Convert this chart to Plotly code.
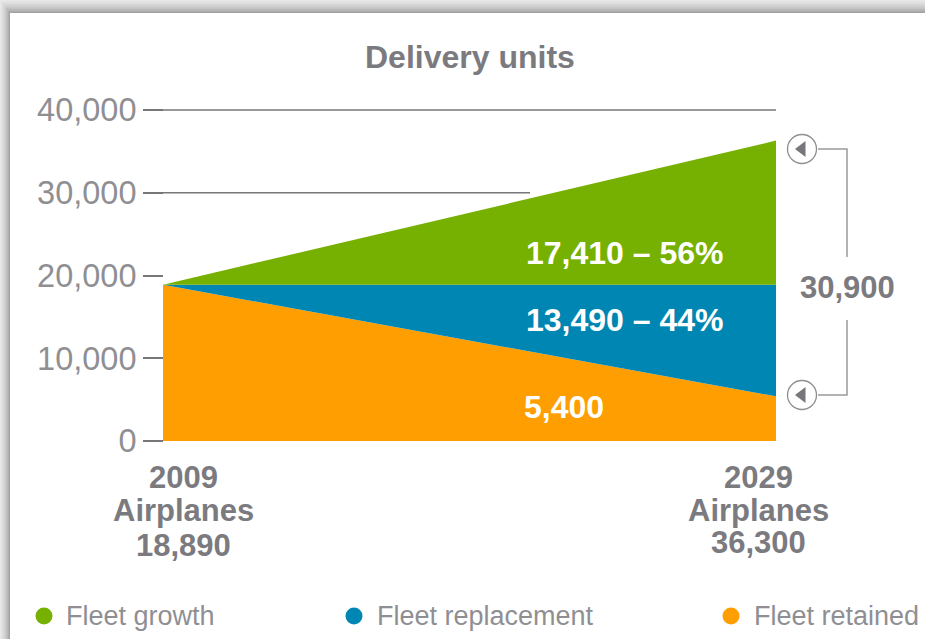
import plotly.graph_objects as go

# Delivery forecast, stacked from the bottom up
years = [2009, 2029]
fleet_retained = [18890, 5400]
fleet_replacement = [0, 13490]
fleet_growth = [0, 17410]

y_ticks = [0, 10000, 20000, 30000, 40000]
series_names = ["Fleet growth", "Fleet replacement", "Fleet retained"]
growth_label = "17,410 – 56%"
replacement_label = "13,490 – 44%"
retained_label = "5,400"
total_label = "30,900"
start_lines = ["2009", "Airplanes", "18,890"]
end_lines = ["2029", "Airplanes", "36,300"]

GREEN, BLUE, ORANGE = "#76b000", "#0086b3", "#ff9e00"
GREY_TEXT, GREY_LABEL, GREY_LINE = "#7b7b7f", "#8f8f93", "#77777a"
FONT = "Liberation Sans"

W, H = 925, 639
LEFT, RIGHT, TOP, BOTTOM = 163, 776, 110, 441


def dx(px):
    """Horizontal pixel position to year units."""
    return years[0] + (px - LEFT) * (years[1] - years[0]) / (RIGHT - LEFT)


def dy(px):
    """Vertical pixel position to delivery units."""
    return (BOTTOM - px) * 40000 / (BOTTOM - TOP)


fig = go.Figure()

# Guide lines that sit behind the areas
for y, x_end in ((40000, years[1]), (30000, dx(530))):
    fig.add_trace(go.Scatter(x=[years[0], x_end], y=[y, y], mode="lines",
                             line=dict(color=GREY_LINE, width=1.5),
                             hoverinfo="skip", showlegend=False))

# Stacked areas
for name, values, color in ((series_names[2], fleet_retained, ORANGE),
                            (series_names[1], fleet_replacement, BLUE),
                            (series_names[0], fleet_growth, GREEN)):
    fig.add_trace(go.Scatter(x=years, y=values, name=name, mode="lines",
                             stackgroup="deliveries", fillcolor=color,
                             line=dict(width=0, color=color), showlegend=False))

# Bracket joining the two end values
bx0, bx1 = dx(818), dx(847)
badge_top, badge_bottom = dy(149), dy(395)
for xs, ys in (((bx0, bx1, bx1), (badge_top, badge_top, dy(257))),
               ((bx1, bx1, bx0), (dy(320), badge_bottom, badge_bottom))):
    fig.add_trace(go.Scatter(x=xs, y=ys, mode="lines",
                             line=dict(color="#9a9a9e", width=1.5),
                             hoverinfo="skip", showlegend=False))

# Arrow badges beside the right edge
badge_x = [dx(802), dx(802)]
badge_y = [badge_top, badge_bottom]
fig.add_trace(go.Scatter(x=badge_x, y=badge_y, mode="markers",
                         marker=dict(symbol="circle", size=29, color="white",
                                     line=dict(color="#8f8f93", width=1.3)),
                         hoverinfo="skip", showlegend=False))
fig.add_trace(go.Scatter(x=badge_x, y=badge_y, mode="markers",
                         marker=dict(symbol="triangle-left", size=14, color="#77777b"),
                         hoverinfo="skip", showlegend=False))

# Legend row
legend_dots = [44, 354, 731]
legend_text = [64, 375, 752]
fig.add_trace(go.Scatter(x=[dx(p) for p in legend_dots], y=[dy(616)] * 3,
                         mode="markers",
                         marker=dict(size=17, color=[GREEN, BLUE, ORANGE]),
                         hoverinfo="skip", showlegend=False))


def note(text, x, y, size, color, bold=False, anchor="center"):
    fig.add_annotation(text=f"<b>{text}</b>" if bold else text, x=x, y=y,
                       xref="x", yref="y", showarrow=False, xanchor=anchor,
                       yanchor="middle", font=dict(family=FONT, size=size, color=color))


note("Delivery units", dx(470), dy(57), 32, GREY_TEXT, bold=True)
note(growth_label, dx(524), dy(253), 32, "white", bold=True, anchor="left")
note(replacement_label, dx(524), dy(320), 32, "white", bold=True, anchor="left")
note(retained_label, dx(522), dy(407), 32, "white", bold=True, anchor="left")
note(total_label, dx(847), dy(287), 31, GREY_TEXT, bold=True)
for text, row in zip(start_lines, (477, 510, 545)):
    note(text, dx(183), dy(row), 31, GREY_TEXT, bold=True)
for text, row in zip(end_lines, (477, 510, 542)):
    note(text, dx(758), dy(row), 31, GREY_TEXT, bold=True)
for name, p in zip(series_names, legend_text):
    note(name, dx(p), dy(616), 27, GREY_LABEL, anchor="left")

# Sheet of paper with a soft shadow along its top and left edges
shapes = [dict(type="rect", xref="paper", yref="paper", layer="below",
               x0=0, x1=1, y0=0, y1=1, fillcolor="#ececec", line_width=0)]
shades = ["#e8e8e8", "#e3e3e3", "#dedede", "#d8d8d8", "#d2d2d2",
          "#cbcbcb", "#c3c3c3", "#bababa", "#afafaf", "#a3a3a3"]
for i, shade in enumerate(shades):
    shapes.append(dict(type="rect", xref="paper", yref="paper", layer="below",
                       x0=i / W, x1=1, y0=0, y1=1 - 1.3 * i / H,
                       fillcolor=shade, line_width=0))
shapes.append(dict(type="rect", xref="paper", yref="paper", layer="below",
                   x0=10 / W, x1=1, y0=0, y1=1 - 13 / H,
                   fillcolor="white", line_width=0))

# The axes span the whole canvas so marks and notes around the chart stay in range
fig.update_layout(
    width=W, height=H, autosize=False,
    margin=dict(l=0, r=0, t=0, b=0, pad=0),
    paper_bgcolor="white", plot_bgcolor="rgba(0,0,0,0)",
    showlegend=False, shapes=shapes,
    font=dict(family=FONT),
    xaxis=dict(range=[dx(0), dx(W)], domain=[0, 1], visible=False, fixedrange=True),
    yaxis=dict(range=[dy(H), dy(0)], domain=[0, 1], anchor="free", position=LEFT / W,
               tickvals=y_ticks, tickformat=",",
               ticks="outside", ticklen=20, tickwidth=1.5, tickcolor=GREY_LINE,
               showgrid=False, zeroline=False, showline=False, fixedrange=True,
               tickfont=dict(family=FONT, size=32.5, color=GREY_LABEL)),
)

fig.write_html("out.html", config=dict(displayModeBar=False))
